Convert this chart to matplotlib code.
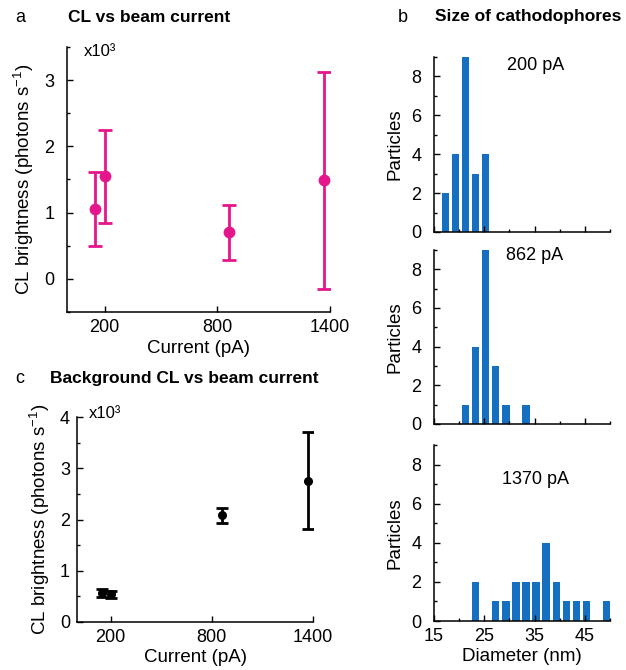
import numpy as np
import matplotlib
matplotlib.use('Agg')
import matplotlib.pyplot as plt
from matplotlib import rcParams
from matplotlib.ticker import MultipleLocator

rcParams['font.family'] = ['Liberation Sans', 'DejaVu Sans']
rcParams['mathtext.fontset'] = 'custom'
rcParams['mathtext.rm'] = 'Liberation Sans'
rcParams['mathtext.it'] = 'Liberation Sans'
rcParams['xtick.direction'] = 'in'
rcParams['ytick.direction'] = 'in'
rcParams['xtick.labelsize'] = 13
rcParams['ytick.labelsize'] = 13
rcParams['axes.labelsize'] = 13.5
rcParams['axes.linewidth'] = 1.1

# panel a: CL vs beam current (x10^3 photons/s)
cl_current = [150, 200, 862, 1370]
cl_value = [1.06, 1.55, 0.70, 1.49]
cl_err = [0.56, 0.70, 0.42, 1.64]

# panel c: background CL vs beam current
bg_current = [150, 200, 862, 1370]
bg_value = [0.56, 0.54, 2.08, 2.76]
bg_err = [0.08, 0.07, 0.15, 0.95]

# panel b: size histograms
bin_centers = [17.3, 19.3, 21.3, 23.3, 25.3, 27.3, 29.3, 31.3, 33.3,
               35.3, 37.3, 39.3, 41.3, 43.3, 45.3, 47.3, 49.3]
counts_200 = [2, 4, 9, 3, 4, 0, 0, 0, 0, 0, 0, 0, 0, 0, 0, 0, 0]
counts_862 = [0, 0, 1, 4, 9, 3, 1, 0, 1, 0, 0, 0, 0, 0, 0, 0, 0]
counts_1370 = [0, 0, 0, 2, 0, 1, 1, 2, 2, 2, 4, 2, 1, 1, 1, 0, 1]
hist_labels = ['200 pA', '862 pA', '1370 pA']

W, H = 626, 670
magenta = '#E5168B'
blue = '#1570C2'
ylab = r'CL brightness (photons s$^{-1}$)'


def box(l, t, r, b):
    return [l / W, 1 - b / H, (r - l) / W, (b - t) / H]


def px_text(x, y, s, **kw):
    fig.text(x / W, 1 - y / H, s, **kw)


def clean(ax):
    ax.spines['top'].set_visible(False)
    ax.spines['right'].set_visible(False)
    ax.tick_params(which='major', length=4, width=1)
    ax.tick_params(which='minor', length=2.5, width=1)


fig = plt.figure(figsize=(W / 100, H / 100), dpi=100)

# panel a
ax = fig.add_axes(box(67, 47, 330, 312))
clean(ax)
ax.errorbar(cl_current, cl_value, yerr=cl_err, fmt='o', color=magenta,
            ms=7.5, elinewidth=2, capsize=5, capthick=2)
ax.set_xlim(0, 1400)
ax.set_ylim(-0.5, 3.5)
ax.set_xticks([200, 800, 1400])
ax.set_yticks([0, 1, 2, 3])
ax.yaxis.set_minor_locator(MultipleLocator(0.5))
ax.tick_params(axis='y', pad=9)
ax.tick_params(axis='x', pad=5)
ax.set_xlabel('Current (pA)', labelpad=3)
ax.set_ylabel(ylab, labelpad=6)
px_text(84, 52, 'x10³', fontsize=12, va='center', ha='left')

# panel c
ax = fig.add_axes(box(77, 417, 313, 622))
clean(ax)
ax.errorbar(bg_current, bg_value, yerr=bg_err, fmt='o', color='black',
            ms=5.5, elinewidth=2, capsize=4, capthick=2)
ax.set_xlim(0, 1400)
ax.set_ylim(0, 4)
ax.set_xticks([200, 800, 1400])
ax.set_yticks([0, 1, 2, 3, 4])
ax.yaxis.set_minor_locator(MultipleLocator(0.5))
ax.tick_params(axis='y', pad=5)
ax.tick_params(axis='x', pad=5)
ax.set_xlabel('Current (pA)', labelpad=2)
ax.set_ylabel(ylab, labelpad=6)
px_text(89, 413, 'x10³', fontsize=12, va='center', ha='left')

# panel b
hist_boxes = [(434, 57, 610, 232), (434, 250, 610, 424), (434, 445, 610, 621)]
hist_counts = [counts_200, counts_862, counts_1370]
label_xy = [(536, 65), (535, 256), (536, 480)]
for i, (bx, counts) in enumerate(zip(hist_boxes, hist_counts)):
    ax = fig.add_axes(box(*bx))
    clean(ax)
    ax.bar(bin_centers, counts, width=1.45, color=blue, linewidth=0)
    ax.set_xlim(15, 50)
    ax.set_ylim(0, 9)
    ax.set_xticks([15, 25, 35, 45])
    ax.xaxis.set_minor_locator(MultipleLocator(5))
    ax.set_yticks([0, 2, 4, 6, 8])
    ax.yaxis.set_minor_locator(MultipleLocator(1))
    ax.tick_params(axis='y', pad=9)
    ax.tick_params(axis='x', pad=5)
    ax.set_ylabel('Particles', labelpad=6)
    px_text(label_xy[i][0], label_xy[i][1], hist_labels[i], fontsize=13,
            ha='center', va='center')
    if i < 2:
        ax.set_xticklabels([])
    else:
        ax.set_xlabel('Diameter (nm)', labelpad=2)

# panel letters and titles
px_text(15, 17, 'a', fontsize=13, va='center')
px_text(68, 17, 'CL vs beam current', fontsize=12.5, fontweight='bold',
        va='center')
px_text(398, 17, 'b', fontsize=13, va='center')
px_text(435, 17, 'Size of cathodophores', fontsize=12.5, fontweight='bold',
        va='center')
px_text(15, 378, 'c', fontsize=13, va='center')
px_text(50, 378, 'Background CL vs beam current', fontsize=12.5,
        fontweight='bold', va='center')

fig.savefig('out.png', dpi=100)
plt.close(fig)
